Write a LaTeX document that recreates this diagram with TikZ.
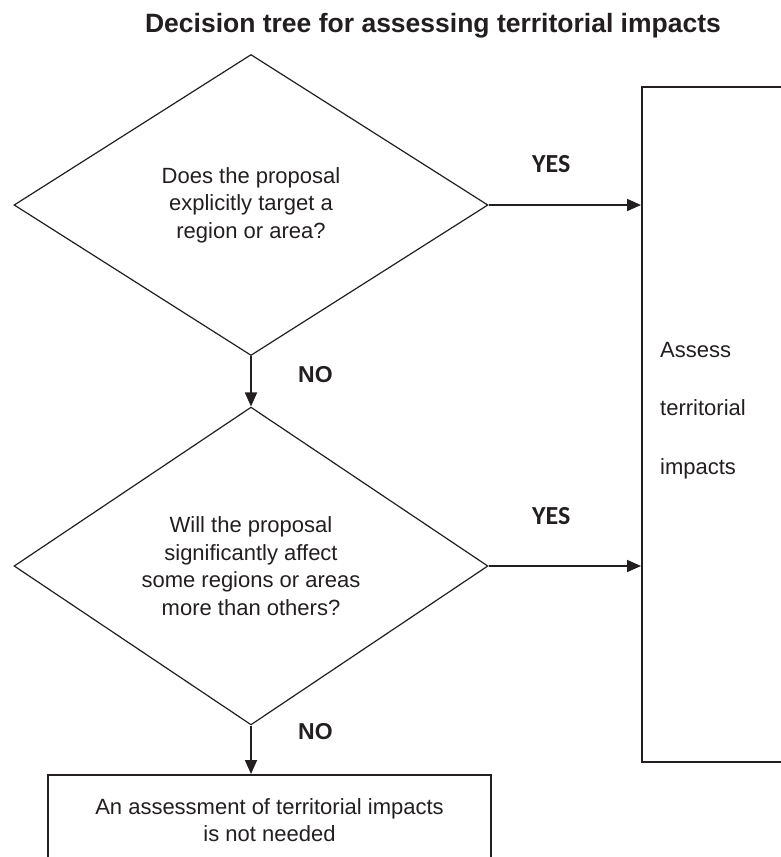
\documentclass[tikz,border=0pt]{standalone}
\usepackage{fontspec}
\setmainfont{Liberation Sans}
\newfontfamily\yesfont{Carlito}
\usetikzlibrary{shapes.geometric,arrows.meta}
\definecolor{ink}{RGB}{35,31,32}
\begin{document}
\begin{tikzpicture}[x=1pt,y=1pt,
  every node/.style={text=ink},
  qdiamond/.style={draw=ink, line width=1.2pt, shape=diamond, inner sep=0pt,
    minimum width=474pt, align=center,
    font=\fontsize{22}{27.6}\selectfont},
  abox/.style={draw=ink, line width=1.6pt, rectangle, inner sep=0pt},
  body/.style={font=\fontsize{22}{27}\selectfont, inner sep=0pt},
  yeslab/.style={font=\yesfont\bfseries\fontsize{26}{30}\selectfont, inner sep=0pt, anchor=base west},
  nolab/.style={font=\bfseries\fontsize{23}{27}\selectfont, inner sep=0pt, anchor=base west},
  arr/.style={draw=ink, line width=1.8pt, -{Triangle[length=14pt,width=12pt]}}
]
\useasboundingbox (0,0) rectangle (781,-857);
\clip (0,0) rectangle (781,-857);
\fill[white] (0,0) rectangle (781,-857);

\node[font=\bfseries\fontsize{26.5}{30}\selectfont, inner sep=0pt, anchor=base] (title) at (433,-32) {Decision tree for assessing territorial impacts};

\node[qdiamond, minimum height=301pt] (d1) at (251,-205) {Does the proposal\\explicitly target a\\region or area?};
\node[qdiamond, minimum height=302pt] (d2) at (251,-566) {Will the proposal\\significantly affect\\some regions or areas\\more than others?};

\node[abox, minimum width=320pt, minimum height=675pt, anchor=north west] (assess) at (641,-86) {};
\node[body, anchor=base west] (as1) at (660,-357) {Assess};
\node[body, anchor=base west] (as2) at (660,-415.5) {territorial};
\node[body, anchor=base west] (as3) at (660,-474) {impacts};

\node[abox, body, minimum width=443pt, minimum height=91pt, anchor=north, align=center] (notneeded) at (269.5,-774) {An assessment of territorial impacts\\is not needed};

\draw[arr] (d1.east) -- (d1.east -| assess.west);
\draw[arr] (d2.east) -- (d2.east -| assess.west);
\draw[arr] (d1.south) -- (d2.north);
\draw[arr] (d2.south) -- (d2.south |- notneeded.north);

\node[yeslab] (yes1) at (532,-172) {YES};
\node[yeslab] (yes2) at (532,-524) {YES};
\node[nolab] (no1) at (298,-382) {NO};
\node[nolab] (no2) at (298,-739) {NO};
\end{tikzpicture}
\end{document}
